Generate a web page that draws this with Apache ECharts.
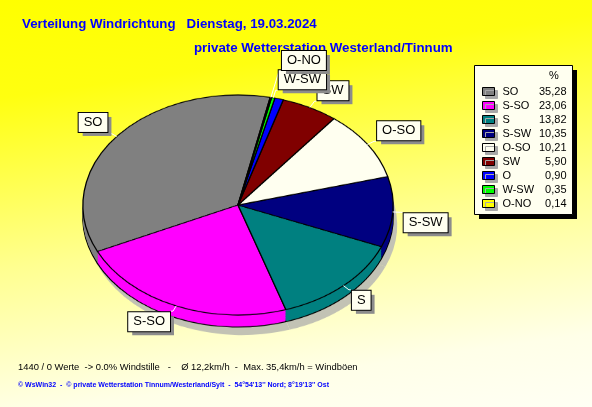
<!DOCTYPE html>
<html><head><meta charset="utf-8">
<script src="https://cdn.jsdelivr.net/npm/echarts/dist/echarts.min.js"></script>
<style>
html,body{margin:0;padding:0;}
#wrap{position:relative;width:592px;height:407px;overflow:hidden;background:linear-gradient(172deg,#FFFF00 0%,#FFFF10 20%,#FFFF90 55%,#FFFFE8 85%,#FFFFF4 100%);}
#pie{position:absolute;left:0;top:0;width:592px;height:407px;transform-origin:238px 205px;transform:scaleY(0.71);}
#main{position:absolute;left:0;top:0;width:592px;height:407px;}
</style></head><body>
<div id="wrap"><div id="pie"></div><div id="main"></div></div>
<script>
// ---- data ----
const categories = ['SO','S-SO','S','S-SW','O-SO','SW','O','W-SW','O-NO'];
const values = [35.28, 23.06, 13.82, 10.35, 10.21, 5.90, 0.90, 0.35, 0.14];
const valueLabels = ['35,28','23,06','13,82','10,35','10,21','5,90','0,90','0,35','0,14'];
const colors = ['#808080','#FF00FF','#008080','#000080','#FFFFF0','#800000','#0000FF','#00FF00','#FFFF00'];
const hiddenLabels = ['O'];
const labelLineLengths = {'O-NO':38, 'W-SW':11, 'SW':10};
const titleLine1 = 'Verteilung Windrichtung   Dienstag, 19.03.2024';
const titleLine2 = 'private Wetterstation Westerland/Tinnum';
const footLine1 = '1440 / 0 Werte  -> 0.0% Windstille   -    \u00D8 12,2km/h  -  Max. 35,4km/h = Windb\u00F6en';
const footLine2 = '\u00A9 WsWin32  -  \u00A9 private Wetterstation Tinnum/Westerland/Sylt  -  54\u00B054\'13\'\' Nord; 8\u00B019\'13\'\' Ost';

// ---- geometry ----
const CX = 238, CY = 205, R = 155, K = 0.71, THICK = 12, START = 78;
const FONT = 'Liberation Sans, Arial, sans-serif';

// ---- pie drawing (scaled to an ellipse) ----
const pieChart = echarts.init(document.getElementById('pie'), null, {renderer:'canvas'});
const pieData = categories.map((n,i)=>({name:n, value:values[i], itemStyle:{color:colors[i]}}));
const base = {type:'pie', radius:R, startAngle:START, clockwise:false, silent:true, animation:false,
  label:{show:false}, labelLine:{show:false}, emphasis:{disabled:true}};
const pieSeries = [];
pieSeries.push(Object.assign({}, base, {center:[CX+4, CY+(THICK+8)/K],
  data: pieData.map(d=>({name:d.name, value:d.value, itemStyle:{color:'#c2c2b4'}})), itemStyle:{borderWidth:0}}));
for (let d = THICK; d >= 1; d--) {
  pieSeries.push(Object.assign({}, base, {center:[CX, CY + d/K], data: pieData,
    itemStyle:{borderColor:'#000', borderWidth: d === THICK ? 1.3 : 0}}));
}
pieSeries.push(Object.assign({}, base, {center:[CX, CY], data: pieData,
  itemStyle:{borderColor:'#000', borderWidth:1.3}}));
pieChart.setOption({animation:false, series: pieSeries});

// ---- texts, legend, labels ----
const main = echarts.init(document.getElementById('main'), null, {renderer:'canvas'});
main.setOption({
  animation:false,
  title:[
    {text:titleLine1, left:22, top:18, padding:0, z:3, textStyle:{color:'#0000FF', fontSize:13.3, fontWeight:'bold', fontFamily:FONT}},
    {text:titleLine2, left:194, top:42, padding:0, z:3, textStyle:{color:'#0000FF', fontSize:13.3, fontWeight:'bold', fontFamily:FONT}},
    {text:footLine1, left:18, top:363, padding:0, textStyle:{color:'#000', fontSize:9.4, fontWeight:'normal', fontFamily:FONT}},
    {text:footLine2, left:18, top:382, padding:0, textStyle:{color:'#0000FF', fontSize:7, fontWeight:'bold', fontFamily:FONT}}
  ],
  graphic:[
    {type:'rect', z:1, shape:{x:479, y:70, width:98, height:149}, style:{fill:'#000'}, silent:true},
    {type:'rect', z:1, shape:{x:474.5, y:65.5, width:98, height:149}, style:{fill:'#FFFFF0', stroke:'#000', lineWidth:1}, silent:true},
    {type:'text', z:10, left:549, top:70, style:{text:'%', fill:'#000', font:'11px '+FONT}}
  ],
  legend:{
    orient:'vertical', left:474, top:65, padding:[21,6,5,8], itemGap:3, itemWidth:12, itemHeight:8, z:10,
    selectedMode:false, icon:'rect',
    itemStyle:{borderColor:'#000', borderWidth:1, opacity:1, shadowColor:'#a8a8a8', shadowOffsetX:3, shadowOffsetY:3, shadowBlur:0},
    data: categories.map((n,i)=>({name:n, itemStyle:{color:colors[i]}})),
    formatter: function(name){ const i = categories.indexOf(name); return '{n|'+name+'}{v|'+valueLabels[i]+'}'; },
    textStyle:{color:'#000', fontSize:11, fontFamily:FONT, rich:{
      n:{width:37, padding:[0,0,0,3], fontSize:11, fontFamily:FONT, color:'#000'},
      v:{width:27, align:'right', fontSize:11, fontFamily:FONT, color:'#000'}}}
  },
  series:[{
    type:'pie', z:10, center:[CX, CY], radius:R, startAngle:START, clockwise:false, silent:true, animation:false,
    avoidLabelOverlap:false, minShowLabelAngle:0,
    itemStyle:{color:'rgba(0,0,0,0)', borderWidth:0},
    emphasis:{disabled:true},
    label:{show:true, position:'outside', formatter:'{box|{b}}', padding:0,
      backgroundColor:'#FFFFF0', shadowColor:'#8c8c8c', shadowOffsetX:4, shadowOffsetY:4, shadowBlur:0, distanceToLabelLine:1,
      rich:{box:{color:'#000', fontSize:13, fontFamily:FONT, backgroundColor:'#FFFFF0', borderColor:'#000', borderWidth:1, padding:[3,5,3,5]}}},
    labelLine:{show:true, length:8, length2:2, lineStyle:{color:'#FFFFFF', width:1}},
    labelLayout:function(p){
      const pts = p.labelLinePoints;
      if (!pts) return {};
      const np = pts.map(pt=>[pt[0], CY + (pt[1]-CY)*K]);
      const end = np[np.length-1];
      const h = p.labelRect.height;
      return {y: end[1] < CY ? end[1] - h/2 : end[1] + h/2, labelLinePoints: np};
    },
    data: categories.map((n,i)=>{
      const item = {name:n, value:values[i]};
      if (hiddenLabels.indexOf(n) >= 0) { item.label = {show:false}; item.labelLine = {show:false}; }
      else if (labelLineLengths[n]) { item.labelLine = {length: labelLineLengths[n]}; }
      return item;
    })
  }]
});
</script>
</body></html>
